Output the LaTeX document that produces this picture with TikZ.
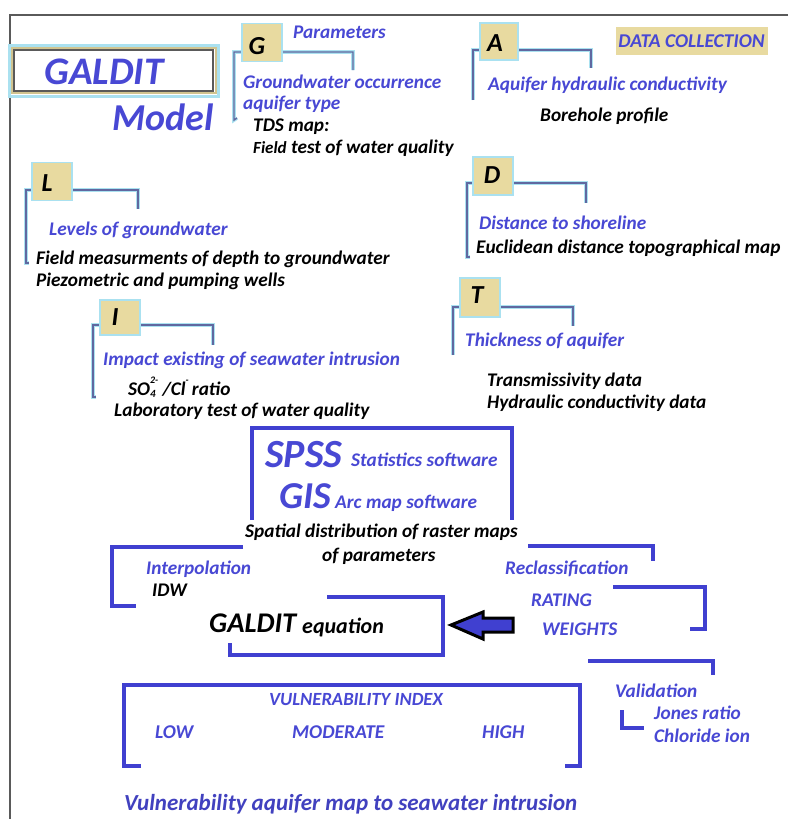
\documentclass[tikz,border=0pt]{standalone}
\usepackage{fontspec}
\setmainfont{Carlito}
\definecolor{tblue}{RGB}{72,72,212}
\definecolor{bblue}{RGB}{64,64,208}
\definecolor{brgray}{RGB}{96,104,160}
\definecolor{glowc}{RGB}{170,225,240}
\definecolor{tan}{RGB}{232,218,160}
\definecolor{framegray}{RGB}{90,90,90}
\begin{document}
\begin{tikzpicture}[x=1pt,y=-1pt,
  bt/.style={text=tblue,font=\fontsize{19.3}{22}\selectfont\bfseries\itshape,inner sep=0pt,anchor=west},
  kt/.style={text=black,font=\fontsize{19.3}{22}\selectfont\bfseries\itshape,inner sep=0pt,anchor=west},
  bigt/.style={text=tblue,font=\fontsize{40}{44}\selectfont\bfseries\itshape,inner sep=0pt,anchor=west},
  capt/.style={text=tblue,font=\fontsize{19.5}{22}\selectfont\bfseries\itshape,inner sep=0pt},
  lbox/.style={fill=tan,draw=glowc,line width=1.5pt,minimum width=40pt,minimum height=38pt,inner sep=0pt},
  lett/.style={text=black,font=\fontsize{26}{29}\selectfont\bfseries\itshape,inner sep=0pt},
  tbr/.style={draw=brgray,line width=1.4pt,preaction={draw=glowc,line width=3.6pt}},
  bbr/.style={draw=bblue,line width=3.8pt}
]
\useasboundingbox (0,0) rectangle (788,819);
\fill[white] (0,0) rectangle (788,819);
% outer frame
\draw[framegray,line width=1.8pt] (788,15) -- (10,15) -- (10,819);

% GALDIT Model title
\draw[glowc,line width=3pt] (9,45) rectangle (218,96);
\draw[tan!90!black,line width=2.5pt] (12,48) rectangle (216,93);
\draw[white,fill=white] (14,50) rectangle (213,91);
\draw[framegray,line width=1.2pt] (14,50) rectangle (213,91);
\node[bigt,anchor=center,font=\fontsize{39}{43}\selectfont\bfseries\itshape] (galdit) at (104,72) {GALDIT};
\node[bigt,anchor=center,font=\fontsize{38}{42}\selectfont\bfseries\itshape] (model) at (163,117) {Model};

% G
\draw[tbr] (237,118) -- (234,120) -- (234,52) -- (353,52) -- (353,70);
\node[lbox] (gbox) at (262,42.5) {};
\node[lett] (gl) at (257,46) {G};
\node[bt] (par) at (293,32) {Parameters};
\node[bt] (g1) at (243,82) {Groundwater occurrence};
\node[bt] (g2) at (243,104) {aquifer type};
\node[kt] (g3) at (253,127) {TDS map:};
\node[kt] (g4) at (253,148) {{\fontsize{17}{19}\selectfont Field} test of water quality};

% A
\draw[tbr] (473,100) -- (473,50) -- (591,50) -- (591,68);
\node[lbox,minimum width=38pt,minimum height=37pt] (abox) at (499,41.5) {};
\node[lett] (al) at (495,43) {A};
\node[capt,fill=tan,minimum width=152pt,minimum height=28pt] (dc) at (691.5,41) {DATA COLLECTION};
\node[bt] (a1) at (488,85) {Aquifer hydraulic conductivity};
\node[kt] (a2) at (540,116) {Borehole profile};

% L
\draw[tbr] (29,263) -- (26,263) -- (26,190) -- (138,190) -- (138,209);
\node[lbox] (lbx) at (52,181.5) {};
\node[lett] (ll) at (47,183) {L};
\node[bt] (l1) at (49,230) {Levels of groundwater};
\node[kt] (l2) at (36,259) {Field measurments of depth to groundwater};
\node[kt] (l3) at (36,281) {Piezometric and pumping wells};

% D
\draw[tbr] (470,257) -- (467,257) -- (467,183) -- (586,183) -- (586,203);
\node[lbox] (dbox) at (493,176) {};
\node[lett] (dl) at (492,175) {D};
\node[bt] (d1) at (479,223) {Distance to shoreline};
\node[kt] (d2) at (476,248) {Euclidean distance topographical map};

% T
\draw[tbr] (453,355) -- (453,307) -- (573,307) -- (573,326);
\node[lbox,minimum height=39pt] (tbox) at (480,297.5) {};
\node[lett] (tl) at (477,295) {T};
\node[bt] (t1) at (465,341) {Thickness of aquifer};
\node[kt] (t2) at (487,381) {Transmissivity data};
\node[kt] (t3) at (487,403) {Hydraulic conductivity data};

% I
\draw[tbr] (96,397) -- (93,397) -- (93,325) -- (213,325) -- (213,345);
\node[lbox,minimum height=35pt] (ibox) at (120,317.5) {};
\node[lett] (il) at (115,317) {I};
\node[bt] (i1) at (103,360) {Impact existing of seawater intrusion};
\node[kt] (i2) at (128,387) {SO\rlap{\raisebox{-0.25ex}{\fontsize{11}{11}\selectfont 4}}\raisebox{1.3ex}{\fontsize{10}{10}\selectfont 2-} /Cl\raisebox{1.3ex}{\fontsize{10}{10}\selectfont -}\,ratio};
\node[kt] (i3) at (114,411) {Laboratory test of water quality};

% SPSS / GIS
\draw[bbr] (252,520) -- (252,428) -- (512,428) -- (512,520);
\node[bigt] (spss) at (265,455) {SPSS};
\node[bt] (spss2) at (351,460) {Statistics software};
\node[bigt,font=\fontsize{38}{42}\selectfont\bfseries\itshape] (gis) at (279,496) {GIS};
\node[bt] (gis2) at (335,503) {Arc map software};
\node[kt] (sp1) at (245,532) {Spatial distribution of raster maps};
\node[kt] (sp2) at (322,556) {of parameters};

% Interpolation
\draw[bbr] (243,547) -- (112,547) -- (112,606) -- (136,606);
\node[bt] (int) at (146,569) {Interpolation};
\node[kt] (idw) at (152,590) {IDW};

% GALDIT equation
\draw[bbr] (327,597) -- (443,597) -- (443,655) -- (230,655) -- (230,643);
\node[kt,font=\fontsize{28.5}{31}\selectfont\bfseries\itshape] (geq) at (209,623) {GALDIT};
\node[kt,font=\fontsize{22}{25}\selectfont\bfseries\itshape] (geq2) at (302,627) {equation};

% arrow
\draw[black,line width=3pt,fill=bblue,line join=miter] (451,625) -- (483,612) -- (483,618) -- (513,618) -- (513,632) -- (483,632) -- (483,639) -- cycle;

% Reclassification
\draw[bbr] (528,546) -- (653,546) -- (653,561);
\node[bt] (rec) at (505,569) {Reclassification};
\node[bt] (rat) at (531,600) {RATING};
\node[bt] (wei) at (542,629) {WEIGHTS};
\draw[bbr] (613,587) -- (705,587) -- (705,629) -- (690,629);

% Validation
\draw[bbr] (588,661) -- (713,661) -- (713,675);
\node[bt] (val) at (615,691) {Validation};
\draw[bbr] (622,710) -- (622,728) -- (644,728);
\node[bt] (jon) at (654,713) {Jones ratio};
\node[bt] (chl) at (654,736) {Chloride ion};

% Vulnerability index
\draw[bbr] (141,766) -- (124,766) -- (124,685) -- (580,685) -- (580,766) -- (565,766);
\node[capt,font=\fontsize{18.6}{21}\selectfont\bfseries\itshape] (vi) at (356,700) {VULNERABILITY INDEX};
\node[bt,font=\fontsize{19.5}{22}\selectfont\bfseries\itshape] (low) at (155,732) {LOW};
\node[bt,font=\fontsize{19.5}{22}\selectfont\bfseries\itshape] (mod) at (292,732) {MODERATE};
\node[bt,font=\fontsize{19.5}{22}\selectfont\bfseries\itshape] (hig) at (482,732) {HIGH};
\node[bt,font=\fontsize{23}{26}\selectfont\bfseries\itshape,text=tblue!90!black] (vam) at (124,804) {Vulnerability aquifer map to seawater intrusion};
\end{tikzpicture}
\end{document}
